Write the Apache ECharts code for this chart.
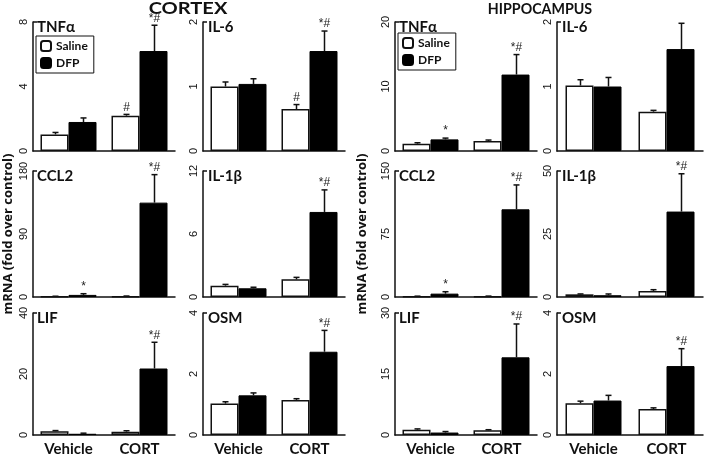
<!DOCTYPE html>
<html><head><meta charset="utf-8">
<script src="https://cdn.jsdelivr.net/npm/echarts@6/dist/echarts.min.js"></script>
<style>html,body{margin:0;padding:0;background:#fff}#c{width:709px;height:457px}</style>
</head><body><div id="c"></div>
<script>
const categories = ['Vehicle', 'CORT'];
const regionTitles = ['CORTEX', 'HIPPOCAMPUS'];
const yAxisTitle = 'mRNA (fold over control)';
const seriesNames = ['Saline', 'DFP'];
// panel order: row by row, cols = cortex A, cortex B, hippocampus A, hippocampus B
const panelNames = ['TNFα', 'IL-6', 'TNFα', 'IL-6', 'CCL2', 'IL-1β', 'CCL2', 'IL-1β', 'LIF', 'OSM', 'LIF', 'OSM'];
const axisMax = [8, 2, 20, 2, 180, 12, 150, 50, 40, 4, 30, 4];
const salineMean = [[1.03, 2.19], [1.0, 0.65], [1.13, 1.55], [1.015, 0.61], [0.8, 1.0], [1.08, 1.68], [0.7, 0.8], [1.06, 2.4], [1.25, 1.1], [1.03, 1.15], [1.3, 1.15], [1.04, 0.85]];
const salineErr = [[0.12, 0.08], [0.07, 0.07], [0.15, 0.15], [0.09, 0.02], [0.3, 0.4], [0.12, 0.19], [0.3, 0.3], [0.15, 0.5], [0.2, 0.3], [0.06, 0.04], [0.2, 0.15], [0.07, 0.04]];
const dfpMean = [[1.8, 6.2], [1.04, 1.55], [1.8, 11.85], [1.0, 1.58], [3.0, 134.8], [0.83, 8.1], [4.0, 104.4], [0.7, 33.9], [0.4, 21.8], [1.3, 2.73], [0.6, 19.1], [1.13, 2.26]];
const dfpErr = [[0.25, 1.6], [0.08, 0.31], [0.2, 3.1], [0.14, 0.4], [1.7, 40], [0.1, 2.1], [2.3, 29], [0.5, 15], [0.2, 8.6], [0.08, 0.7], [0.25, 8.2], [0.17, 0.57]];
const salineMark = [['', '#'], ['', '#'], ['', ''], ['', ''], ['', ''], ['', ''], ['', ''], ['', ''], ['', ''], ['', ''], ['', ''], ['', '']];
const dfpMark = [['', '*#'], ['', '*#'], ['*', '*#'], ['', ''], ['*', '*#'], ['', '*#'], ['*', '*#'], ['', '*#'], ['', '*#'], ['', '*#'], ['', '*#'], ['', '*#']];

const colLeft = [33, 203, 395, 557];
const colWidth = [142, 142, 142, 146];
const rowTop = [22, 171, 313];
const rowHeight = [129, 126, 129];
const BAR_W = 28;
const INK = '#111';
const TXT = 'Lato';

const chart = echarts.init(document.getElementById('c'));
const grid = [], xAxis = [], yAxis = [], series = [], graphic = [];

panelNames.forEach((name, i) => {
  const r = Math.floor(i / 4), c = i % 4;
  grid.push({ left: colLeft[c], top: rowTop[r], width: colWidth[c], height: rowHeight[r] });
  xAxis.push({
    type: 'category', gridIndex: i, data: categories,
    axisLine: { lineStyle: { color: INK, width: 1.5 } },
    axisTick: { show: false },
    axisLabel: { show: r === 2, fontFamily: TXT, fontWeight: 'bold', fontSize: 15, color: INK, margin: 7 }
  });
  yAxis.push({
    type: 'value', gridIndex: i, min: 0, max: axisMax[i], interval: axisMax[i] / 2,
    axisLine: { show: true, lineStyle: { color: INK, width: 1.5 } },
    axisTick: { show: true, inside: true, length: 4, customValues: [axisMax[i]], lineStyle: { color: INK, width: 1.5 } },
    splitLine: { show: false },
    axisLabel: { rotate: 90, fontFamily: 'Liberation Sans', fontSize: 11, color: INK, margin: 4 }
  });
  series.push({
    type: 'bar', name: seriesNames[0], xAxisIndex: i, yAxisIndex: i, data: salineMean[i],
    barWidth: BAR_W, barGap: '0%', silent: true,
    itemStyle: { color: '#fff', borderColor: INK, borderWidth: 1.5 }
  });
  series.push({
    type: 'bar', name: seriesNames[1], xAxisIndex: i, yAxisIndex: i, data: dfpMean[i],
    barWidth: BAR_W, barGap: '0%', silent: true,
    itemStyle: { color: '#000', borderColor: '#000', borderWidth: 1 }
  });
  const errData = [], marks = [];
  [0, 1].forEach(k => {
    errData.push([k, salineMean[i][k], salineErr[i][k], -1]); marks.push(salineMark[i][k]);
    errData.push([k, dfpMean[i][k], dfpErr[i][k], 1]); marks.push(dfpMark[i][k]);
  });
  series.push({
    type: 'custom', xAxisIndex: i, yAxisIndex: i, data: errData, silent: true, clip: false, z: 5,
    encode: { x: 0, y: 1 },
    renderItem: (params, api) => {
      const cat = api.value(0), v = api.value(1), e = api.value(2), side = api.value(3);
      const b = api.coord([cat, v]);
      const t = api.coord([cat, v + e]);
      const x = Math.round(b[0] + side * BAR_W / 2) + 0.5;
      const children = [
        { type: 'line', shape: { x1: x, y1: b[1], x2: x, y2: t[1] }, style: { stroke: INK, lineWidth: 1.5 } },
        { type: 'line', shape: { x1: x - 3, y1: t[1], x2: x + 3, y2: t[1] }, style: { stroke: INK, lineWidth: 1.5 } }
      ];
      const m = marks[params.dataIndex];
      if (m) children.push({ type: 'text', x: x, y: t[1] - 1, style: { text: m, fill: '#222', font: '12px "Liberation Sans"', align: 'center', verticalAlign: 'bottom' } });
      return { type: 'group', children };
    }
  });
  graphic.push({ type: 'text', left: colLeft[c] + (c % 2 === 0 ? 4 : 5), top: rowTop[r] - 2,
    style: { text: name, fill: INK, font: 'bold 15px Lato' } });
});

graphic.push({ type: 'text', x: 188, y: 9, scaleX: 1.18,
  style: { text: regionTitles[0], fill: INK, font: 'bold 17px Lato', align: 'center', verticalAlign: 'middle' } });
graphic.push({ type: 'text', x: 540, y: 9, scaleX: 0.95,
  style: { text: regionTitles[1], fill: INK, font: 'bold 15px Lato', align: 'center', verticalAlign: 'middle' } });
[8, 362].forEach(x => {
  graphic.push({ type: 'text', x: x, y: 234, rotation: Math.PI / 2,
    style: { text: yAxisTitle, fill: INK, font: 'bold 13px "Open Sans"', align: 'center', verticalAlign: 'middle' } });
});

const legendBase = {
  data: seriesNames, orient: 'vertical', itemWidth: 10, itemHeight: 10, itemGap: 5,
  padding: [4, 6, 4, 4], borderColor: INK, borderWidth: 1, selectedMode: false,
  textStyle: { fontFamily: TXT, fontWeight: 'bold', fontSize: 12, color: INK }
};
const legend = [
  Object.assign({}, legendBase, { left: 36, top: 36 }),
  Object.assign({}, legendBase, { left: 398, top: 33 })
];

chart.setOption({ animation: false, backgroundColor: '#fff', grid, xAxis, yAxis, series, legend, graphic });
</script></body></html>
